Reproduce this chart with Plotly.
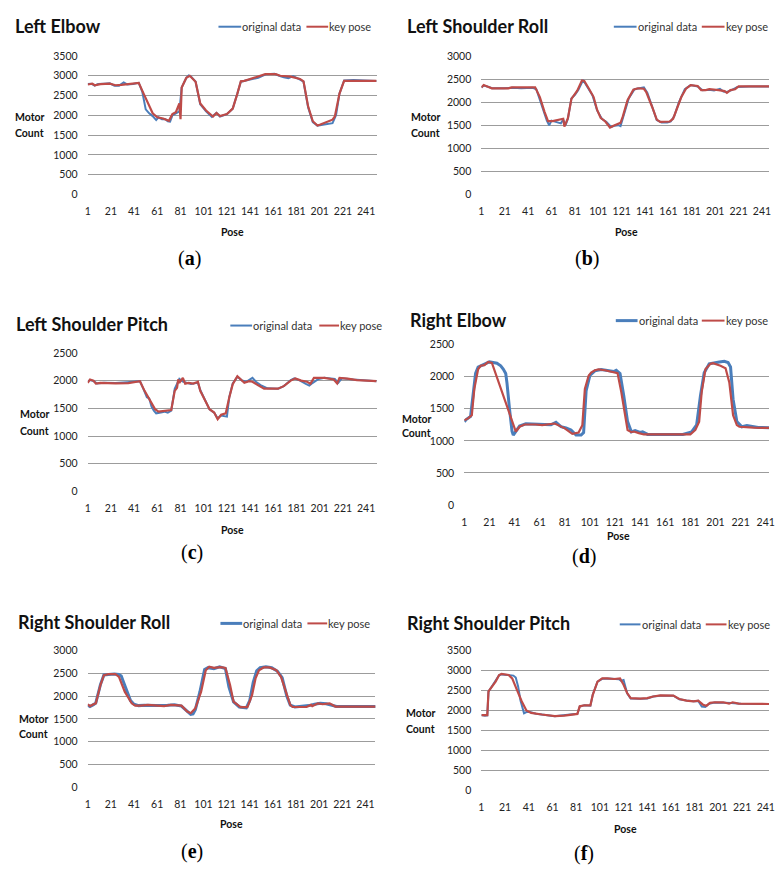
import plotly.graph_objects as go

W, H = 775, 873
BLUE = '#4A7EBB'
RED = '#BE4B48'
SANS = 'Lato, Carlito, Calibri, sans-serif'
SERIF = 'Liberation Serif, serif'

# ---------------- DATA ----------------
titles = ['Left Elbow', 'Left Shoulder Roll', 'Left Shoulder Pitch',
          'Right Elbow', 'Right Shoulder Roll', 'Right Shoulder Pitch']
sub_labels = ['a', 'b', 'c', 'd', 'e', 'f']
series_names = ['original data', 'key pose']
x_tick_labels = [1, 21, 41, 61, 81, 101, 121, 141, 161, 181, 201, 221, 241]

# (a) Left Elbow
le_orig_x = [1, 4, 7, 10, 15, 20, 24, 28, 32, 35, 40, 45, 48, 51, 54, 57, 60, 62, 65, 68,
             70, 72, 74, 77, 80, 82, 86, 88, 90, 94, 98, 103, 108, 112, 115, 121, 126, 130, 133, 140,
             148, 155, 162, 166, 170, 174, 178, 184, 187, 191, 195, 199, 203, 208, 212, 215, 218, 222, 230, 240, 250]
le_orig_y = [2790, 2800, 2750, 2790, 2800, 2810, 2750, 2750, 2830, 2780, 2790, 2820, 2600, 2150, 2050, 1980, 1880, 1950, 1900, 1900,
             1850, 1840, 2000, 2050, 2100, 2700, 2950, 3010, 2980, 2850, 2280, 2100, 1960, 2060, 1970, 2030, 2170, 2550, 2850, 2900,
             2950, 3040, 3050, 3000, 2960, 2940, 2990, 2900, 2850, 2200, 1830, 1740, 1760, 1780, 1800, 2000, 2550, 2880, 2890, 2880, 2870]
le_key_x = [1, 5, 7, 12, 20, 25, 30, 36, 40, 45, 49, 53, 57, 61, 66, 71, 74, 77, 79, 80,
            81, 82, 86, 89, 94, 98, 103, 109, 112, 115, 121, 126, 130, 133, 136, 144, 154, 163, 167, 176,
            184, 187, 191, 195, 199, 201, 212, 214, 218, 222, 250]
le_key_y = [2780, 2800, 2760, 2790, 2800, 2760, 2770, 2790, 2790, 2820, 2560, 2300, 2050, 1950, 1920, 1860, 2030, 2080, 2200, 2300,
            1900, 2700, 2950, 3000, 2850, 2300, 2120, 1970, 2060, 1980, 2030, 2170, 2550, 2860, 2870, 2950, 3040, 3040, 3000, 2980,
            2920, 2860, 2220, 1850, 1740, 1760, 1890, 1970, 2550, 2870, 2870]

# (b) Left Shoulder Roll
lsr_orig_x = [1, 3, 6, 10, 20, 28, 35, 45, 48, 52, 55, 57, 59, 61, 64, 67, 69, 71, 73, 75,
              78, 81, 84, 88, 92, 96, 100, 104, 108, 112, 115, 118, 120, 123, 127, 132, 136, 140, 143, 147,
              151, 155, 160, 163, 166, 170, 175, 180, 186, 190, 196, 200, 205, 208, 211, 215, 220, 230, 250]
lsr_orig_y = [2320, 2360, 2340, 2300, 2300, 2310, 2300, 2310, 2280, 2000, 1750, 1600, 1500, 1600, 1580, 1560, 1540, 1620, 1500, 1640,
              2080, 2160, 2270, 2480, 2320, 2150, 1820, 1640, 1570, 1460, 1490, 1500, 1480, 1750, 2080, 2280, 2300, 2320, 2200, 1890,
              1610, 1560, 1560, 1580, 1700, 2000, 2280, 2370, 2340, 2260, 2270, 2250, 2290, 2230, 2220, 2260, 2330, 2340, 2340]
lsr_key_x = [1, 3, 6, 10, 24, 27, 47, 51, 55, 58, 62, 68, 71, 72, 75, 78, 80, 83, 87, 89,
             93, 97, 100, 103, 107, 111, 114, 120, 122, 126, 131, 135, 140, 142, 147, 151, 154, 162, 165, 168,
             172, 176, 180, 186, 189, 193, 196, 204, 209, 211, 214, 218, 221, 250]
lsr_key_y = [2320, 2370, 2340, 2300, 2300, 2320, 2320, 2110, 1790, 1590, 1590, 1630, 1640, 1470, 1650, 2070, 2150, 2250, 2470, 2460,
             2290, 2110, 1830, 1660, 1580, 1450, 1490, 1550, 1690, 2040, 2270, 2300, 2290, 2220, 1900, 1620, 1570, 1580, 1640, 1860,
             2110, 2290, 2370, 2350, 2260, 2260, 2280, 2260, 2240, 2200, 2260, 2280, 2340, 2340]

# (c) Left Shoulder Pitch
lsp_orig_x = [1, 3, 6, 9, 15, 25, 35, 46, 49, 52, 54, 56, 58, 60, 63, 67, 70, 73, 76, 79,
              80, 83, 86, 90, 93, 96, 98, 102, 106, 110, 113, 116, 119, 121, 123, 126, 130, 134, 138, 143,
              146, 150, 156, 165, 170, 176, 179, 184, 189, 192, 195, 200, 205, 210, 214, 217, 220, 230, 240, 250]
lsp_orig_y = [1980, 2010, 1990, 1950, 1960, 1955, 1970, 1990, 1850, 1700, 1680, 1530, 1460, 1410, 1420, 1440, 1420, 1460, 1850, 1980,
              2030, 1980, 1960, 1940, 1950, 1960, 1830, 1640, 1480, 1420, 1320, 1370, 1360, 1350, 1700, 1950, 2070, 2000, 1980, 2050,
              1980, 1920, 1860, 1855, 1900, 2010, 2040, 2000, 1940, 1910, 1960, 2030, 2050, 2040, 2030, 1960, 2040, 2020, 2000, 1990]
lsp_key_x = [1, 3, 6, 8, 12, 25, 36, 46, 50, 55, 59, 62, 68, 73, 76, 78, 79, 80, 83, 85,
             88, 92, 95, 96, 98, 102, 106, 110, 113, 116, 120, 123, 126, 130, 133, 136, 140, 143, 148, 153,
             165, 170, 176, 180, 185, 190, 193, 196, 205, 213, 216, 218, 225, 233, 250]
lsp_key_y = [1960, 2020, 2000, 1945, 1960, 1950, 1955, 1990, 1815, 1635, 1485, 1440, 1455, 1470, 1815, 1870, 2020, 1960, 2050, 1945,
             1960, 1945, 1970, 1980, 1815, 1635, 1485, 1425, 1305, 1385, 1410, 1695, 1935, 2080, 2020, 1960, 1990, 1980, 1915, 1855,
             1855, 1900, 2000, 2040, 2000, 1980, 1945, 2050, 2050, 2020, 1950, 2050, 2035, 2010, 1990]

# (d) Right Elbow
re_orig_x = [1, 3, 6, 8, 10, 12, 15, 18, 21, 24, 27, 30, 32, 34, 35, 37, 39, 40, 42, 45,
             50, 55, 60, 65, 70, 74, 78, 82, 86, 90, 94, 96, 98, 101, 105, 110, 115, 120, 122, 125,
             128, 131, 134, 137, 141, 143, 147, 160, 175, 182, 186, 189, 192, 196, 200, 204, 208, 211, 213, 215,
             218, 222, 226, 235, 250]
re_orig_y = [1300, 1340, 1380, 1700, 2050, 2150, 2180, 2200, 2230, 2220, 2210, 2170, 2120, 2050, 1900, 1500, 1150, 1090, 1150, 1230,
             1265, 1260, 1255, 1260, 1250, 1290, 1220, 1200, 1170, 1090, 1090, 1130, 1780, 2020, 2090, 2110, 2100, 2080, 2100, 2050,
             1700, 1300, 1140, 1160, 1130, 1140, 1100, 1100, 1100, 1140, 1250, 1700, 2060, 2200, 2220, 2230, 2240, 2220, 2150, 1650,
             1300, 1220, 1240, 1210, 1200]
re_key_x = [1, 4, 7, 9, 12, 14, 17, 20, 23, 42, 45, 49, 58, 63, 73, 81, 87, 92, 95, 97,
            100, 102, 105, 108, 113, 121, 123, 126, 129, 131, 134, 136, 140, 144, 181, 185, 188, 190, 193, 197,
            199, 205, 209, 212, 215, 218, 220, 231, 250]
re_key_y = [1320, 1350, 1400, 1810, 2115, 2170, 2180, 2230, 2215, 1145, 1220, 1255, 1255, 1245, 1270, 1195, 1110, 1130, 1245, 1810,
            2015, 2065, 2100, 2115, 2100, 2065, 2055, 1760, 1400, 1170, 1135, 1145, 1120, 1100, 1100, 1170, 1300, 1760, 2115, 2200,
            2210, 2170, 2130, 1910, 1400, 1245, 1220, 1205, 1200]

# (e) Right Shoulder Roll
rsr_orig_x = [1, 3, 6, 8, 12, 15, 19, 24, 28, 30, 32, 35, 38, 41, 45, 50, 60, 70, 76, 82,
              85, 88, 90, 92, 94, 98, 102, 105, 110, 115, 120, 123, 127, 132, 138, 141, 144, 147, 150, 155,
              160, 165, 169, 173, 176, 180, 188, 192, 197, 202, 207, 212, 216, 225, 250]
rsr_orig_y = [1800, 1770, 1810, 1850, 2250, 2460, 2470, 2480, 2470, 2440, 2300, 2100, 1900, 1820, 1790, 1800, 1790, 1800, 1810, 1780,
              1720, 1640, 1600, 1610, 1700, 2100, 2580, 2620, 2600, 2640, 2600, 2200, 1870, 1760, 1740, 1900, 2300, 2550, 2620, 2640,
              2620, 2540, 2400, 2000, 1800, 1760, 1770, 1790, 1820, 1840, 1830, 1800, 1770, 1770, 1770]
rsr_key_x = [1, 3, 6, 8, 12, 15, 19, 25, 28, 33, 39, 42, 47, 53, 67, 73, 82, 84, 87, 90,
             94, 99, 103, 106, 110, 116, 120, 124, 127, 133, 139, 143, 146, 149, 153, 158, 164, 168, 173, 176,
             178, 190, 194, 195, 200, 204, 210, 213, 215, 224, 250]
rsr_key_y = [1820, 1780, 1820, 1840, 2240, 2455, 2480, 2480, 2420, 2095, 1840, 1790, 1790, 1805, 1780, 1805, 1790, 1730, 1660, 1625,
             1730, 2095, 2565, 2640, 2615, 2630, 2615, 2240, 1875, 1755, 1755, 2020, 2385, 2565, 2625, 2625, 2565, 2420, 2020, 1805,
             1760, 1760, 1805, 1780, 1840, 1820, 1840, 1805, 1770, 1770, 1770]

# (f) Right Shoulder Pitch
rsp_orig_x = [1, 4, 6, 7, 9, 13, 16, 18, 22, 26, 28, 30, 32, 34, 36, 37, 39, 42, 47, 52,
              57, 63, 70, 76, 80, 82, 84, 88, 93, 95, 99, 103, 108, 113, 117, 119, 121, 124, 127, 135,
              141, 146, 152, 163, 168, 174, 180, 184, 187, 190, 193, 198, 205, 212, 220, 235, 250]
rsp_orig_y = [1890, 1870, 1880, 2470, 2560, 2730, 2880, 2900, 2890, 2880, 2870, 2820, 2600, 2250, 2000, 1930, 1960, 1960, 1920, 1900,
              1880, 1860, 1880, 1900, 1910, 1920, 2100, 2130, 2120, 2400, 2720, 2790, 2800, 2790, 2780, 2740, 2760, 2430, 2300, 2290,
              2300, 2350, 2370, 2370, 2280, 2250, 2230, 2240, 2100, 2090, 2170, 2200, 2200, 2190, 2170, 2160, 2160]
rsp_key_x = [1, 4, 6, 7, 9, 13, 16, 18, 24, 27, 31, 35, 39, 43, 52, 57, 63, 71, 79, 82,
             84, 88, 93, 95, 99, 103, 107, 113, 118, 121, 124, 127, 135, 141, 146, 152, 163, 168, 174, 180,
             184, 188, 191, 194, 198, 205, 210, 213, 218, 243, 250]
rsp_key_y = [1885, 1875, 1885, 2475, 2555, 2720, 2885, 2910, 2885, 2800, 2515, 2230, 2000, 1940, 1900, 1875, 1860, 1875, 1900, 1915,
             2105, 2130, 2130, 2390, 2720, 2800, 2800, 2785, 2800, 2640, 2435, 2310, 2295, 2310, 2350, 2375, 2370, 2285, 2245, 2230,
             2245, 2145, 2120, 2190, 2205, 2205, 2170, 2205, 2170, 2165, 2160]

y_max = [3500, 3000, 2500, 2500, 3000, 3500]

series = [
    (le_orig_x, le_orig_y, le_key_x, le_key_y),
    (lsr_orig_x, lsr_orig_y, lsr_key_x, lsr_key_y),
    (lsp_orig_x, lsp_orig_y, lsp_key_x, lsp_key_y),
    (re_orig_x, re_orig_y, re_key_x, re_key_y),
    (rsr_orig_x, rsr_orig_y, rsr_key_x, rsr_key_y),
    (rsp_orig_x, rsp_orig_y, rsp_key_x, rsp_key_y),
]

# ---------------- LAYOUT (pixel geometry) ----------------
panels = [
    dict(l=85.7, r=378.0, t=50.7, b=191.0, xmax=250.0, blue_w=2,
         title=(10, 20), leg=(218, 241, 307, 329, 21), motor=(10, 113, 129), pose=(232, 229), sub=(189, 256)),
    dict(l=484.0, r=775.0, t=50.7, b=191.0, xmax=247.0, blue_w=2,
         title=(407, 20), leg=(618, 641, 707, 730, 21), motor=(411, 113, 129), pose=(631, 229), sub=(591, 256)),
    dict(l=85.7, r=378.0, t=351.7, b=492.3, xmax=250.0, blue_w=2,
         title=(11, 322), leg=(230, 252, 320, 340, 324), motor=(15, 414, 431), pose=(232, 531), sub=(191, 554)),
    dict(l=466.7, r=775.0, t=343.3, b=506.0, xmax=243.6, blue_w=3,
         title=(410, 318), leg=(620, 642, 707, 730, 319), motor=(402, 419, 433), pose=(623, 537), sub=(588, 558)),
    dict(l=85.7, r=376.7, t=653.3, b=792.3, xmax=249.5, blue_w=3,
         title=(13, 625), leg=(220, 242, 308, 328, 626), motor=(14, 723, 738), pose=(231, 829), sub=(191, 857)),
    dict(l=484.0, r=775.0, t=653.3, b=795.7, xmax=243.7, blue_w=2,
         title=(407, 626), leg=(624, 645, 711, 732, 627), motor=(406, 717, 733), pose=(630, 834), sub=(588, 859)),
]

def px(x):
    return x / W

def py(y):
    return 1 - y / H

fig = go.Figure()
annotations = []
shapes = []
layout = {}

def ann(text, x, y, size, xanchor='left', family=SANS, color='#111'):
    annotations.append(dict(text=text, x=px(x), y=py(y), xref='paper', yref='paper',
                            xanchor=xanchor, yanchor='middle', showarrow=False,
                            font=dict(family=family, size=size, color=color)))

for i, (p, (ox, oy, kx, ky)) in enumerate(zip(panels, series)):
    n = '' if i == 0 else str(i + 1)
    xa, ya = 'x' + n, 'y' + n
    fig.add_trace(go.Scatter(x=ox, y=oy, mode='lines', name=series_names[0], showlegend=False,
                             line=dict(color=BLUE, width=p['blue_w']), xaxis=xa, yaxis=ya, hoverinfo='skip'))
    fig.add_trace(go.Scatter(x=kx, y=ky, mode='lines', name=series_names[1], showlegend=False,
                             line=dict(color=RED, width=2.2), xaxis=xa, yaxis=ya, hoverinfo='skip'))
    layout['xaxis' + n] = dict(domain=[px(p['l']), min(1.0, px(p['r']))], range=[1, p['xmax']], anchor=ya,
                               tickmode='array', tickvals=x_tick_labels, ticktext=[str(v) for v in x_tick_labels],
                               showgrid=False, zeroline=False, showline=False, ticklabeloverflow='allow',
                               ticks='outside', ticklen=7, tickcolor='rgba(0,0,0,0)',
                               tickfont=dict(family=SANS, size=10.5, color='#222'))
    layout['yaxis' + n] = dict(domain=[py(p['b']), py(p['t'])], range=[0, y_max[i]], anchor=xa,
                               dtick=500, tick0=0, showgrid=True, gridcolor='#9c9c9c', gridwidth=1,
                               zeroline=False, showline=False,
                               ticks='outside', ticklen=7, tickcolor='rgba(0,0,0,0)',
                               tickfont=dict(family=SANS, size=10.5, color='#222'))

    ann('<b>%s</b>' % titles[i], p['title'][0], p['title'][1], 18)
    bx0, bx1, rx0, rx1, ly = p['leg']
    shapes.append(dict(type='line', xref='paper', yref='paper', x0=px(bx0), x1=px(bx1), y0=py(ly), y1=py(ly),
                       line=dict(color=BLUE, width=p['blue_w'])))
    shapes.append(dict(type='line', xref='paper', yref='paper', x0=px(rx0), x1=px(rx1), y0=py(ly), y1=py(ly),
                       line=dict(color=RED, width=2)))
    ann(series_names[0], bx1 - 1, ly, 11, color='#333')
    ann(series_names[1], rx1 - 1, ly, 11, color='#333')
    mx, my1, my2 = p['motor']
    ann('<b>Motor</b>', mx, my1, 10.5)
    ann('<b>Count</b>', mx, my2, 10.5)
    ann('<b>Pose</b>', p['pose'][0], p['pose'][1], 10.5, xanchor='center')
    ann('(<b>%s</b>)' % sub_labels[i], p['sub'][0], p['sub'][1], 20, xanchor='center', family=SERIF, color='#000')

fig.update_layout(width=W, height=H, margin=dict(l=0, r=0, t=0, b=0), autosize=False,
                  paper_bgcolor='white', plot_bgcolor='white', showlegend=False,
                  annotations=annotations, shapes=shapes, **layout)

fig.write_html('out.html', config={'displayModeBar': False},
               post_script="document.body.style.margin='0';")
